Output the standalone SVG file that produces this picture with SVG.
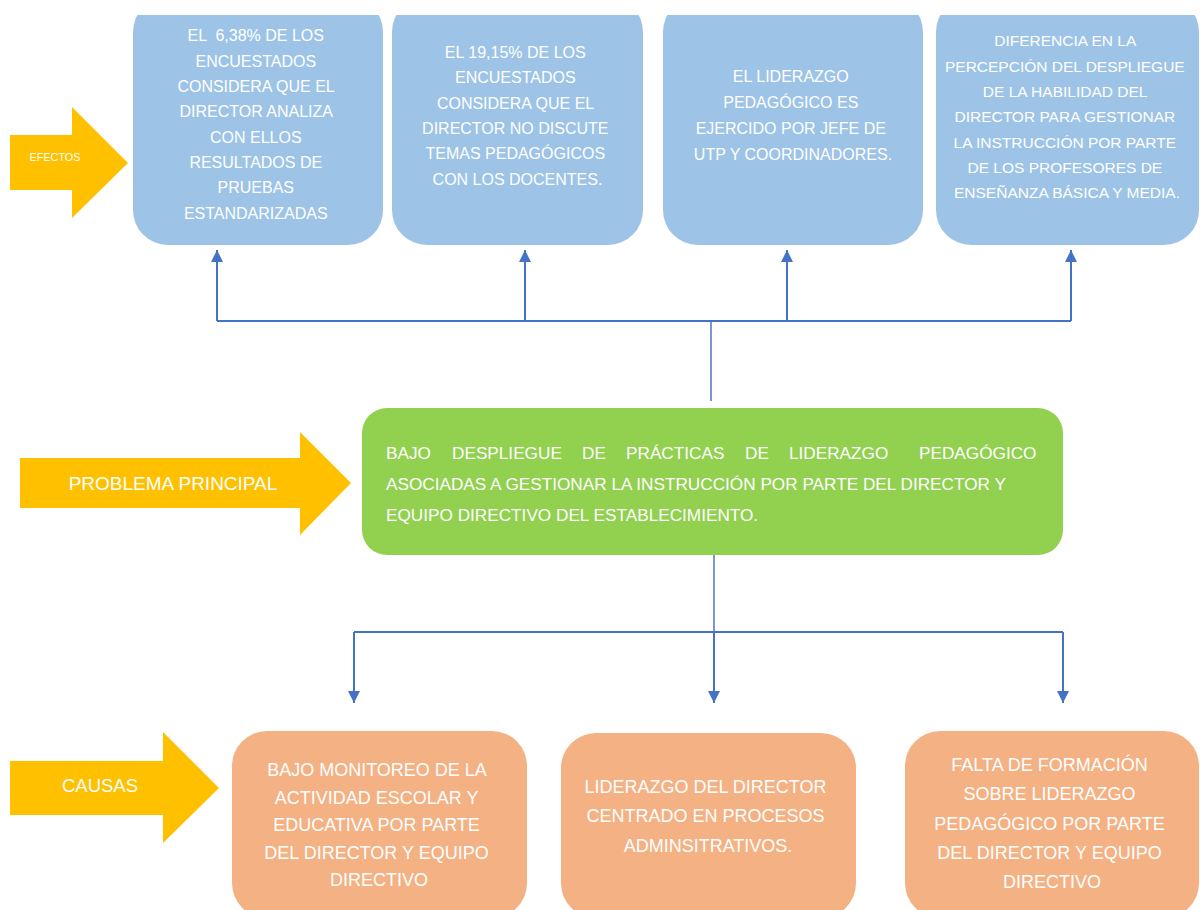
<svg xmlns="http://www.w3.org/2000/svg" width="1200" height="910" viewBox="0 0 1200 910">
<defs>
<style>
.t{font-family:"Liberation Sans",Arial,sans-serif;fill:#ffffff;}
.c{text-anchor:middle;}
.top{font-size:16px;}
.bot{font-size:18px;}
.grn{font-size:17.2px;}
.blue{fill:#9dc3e6;}
.green{fill:#92d050;}
.orange{fill:#f4b183;}
.yellow{fill:#ffc000;}
.con{stroke:#4472c4;stroke-width:2;fill:none;}
.stem{stroke:#4f74c0;stroke-width:1.5;fill:none;}
</style>
<marker id="ah" viewBox="0 0 12 12" refX="12" refY="6" markerWidth="12" markerHeight="12" orient="auto" markerUnits="userSpaceOnUse">
<path d="M0,0 L12,6 L0,12 z" fill="#4472c4"/>
</marker>
<clipPath id="topclip"><rect x="0" y="15" width="1200" height="300"/></clipPath>
</defs>
<rect x="0" y="0" width="1200" height="910" fill="#ffffff"/>

<g id="arrow-efectos">
<path class="yellow" d="M10,135 H72 V107 L128,163 L72,218 V190 H10 Z"/>
<text class="t c" x="55" y="161" font-size="10.8">EFECTOS</text>
</g>
<g id="arrow-problema">
<path class="yellow" d="M20,458 H300 V432 L351,483 L300,535 V508 H20 Z"/>
<text class="t c" x="173" y="490" font-size="19">PROBLEMA PRINCIPAL</text>
</g>
<g id="arrow-causas">
<path class="yellow" d="M10,761 H163 V732 L219,788 L163,843 V815 H10 Z"/>
<text class="t c" x="100" y="792" font-size="18.5">CAUSAS</text>
</g>

<g clip-path="url(#topclip)">
<g id="efecto1">
<rect class="blue" x="133" y="-3" width="250" height="248" rx="35" ry="35"/>
<text class="t c top" style="white-space:pre">
<tspan x="258" y="41">EL  6,38% DE LOS</tspan>
<tspan x="258" y="66.5">ENCUESTADOS</tspan>
<tspan x="258" y="92">CONSIDERA QUE EL</tspan>
<tspan x="258" y="117">DIRECTOR ANALIZA</tspan>
<tspan x="258" y="142.5">CON ELLOS</tspan>
<tspan x="258" y="168">RESULTADOS DE</tspan>
<tspan x="258" y="193">PRUEBAS</tspan>
<tspan x="258" y="219">ESTANDARIZADAS</tspan>
</text>
</g>
<g id="efecto2">
<rect class="blue" x="392" y="-3" width="251" height="248" rx="35" ry="35"/>
<text class="t c top">
<tspan x="517.5" y="58">EL 19,15% DE LOS</tspan>
<tspan x="517.5" y="83">ENCUESTADOS</tspan>
<tspan x="517.5" y="109">CONSIDERA QUE EL</tspan>
<tspan x="517.5" y="134">DIRECTOR NO DISCUTE</tspan>
<tspan x="517.5" y="159">TEMAS PEDAGÓGICOS</tspan>
<tspan x="517.5" y="185">CON LOS DOCENTES.</tspan>
</text>
</g>
<g id="efecto3">
<rect class="blue" x="663" y="-3" width="260" height="248" rx="35" ry="35"/>
<text class="t c top">
<tspan x="793" y="82">EL LIDERAZGO</tspan>
<tspan x="793" y="108">PEDAGÓGICO ES</tspan>
<tspan x="793" y="134">EJERCIDO POR JEFE DE</tspan>
<tspan x="793" y="160">UTP Y COORDINADORES.</tspan>
</text>
</g>
<g id="efecto4">
<rect class="blue" x="936" y="-3" width="263" height="248" rx="35" ry="35"/>
<text class="t c" font-size="15.5">
<tspan x="1067" y="46">DIFERENCIA EN LA</tspan>
<tspan x="1067" y="72">PERCEPCIÓN DEL DESPLIEGUE</tspan>
<tspan x="1067" y="97">DE LA HABILIDAD DEL</tspan>
<tspan x="1067" y="122">DIRECTOR PARA GESTIONAR</tspan>
<tspan x="1067" y="148">LA INSTRUCCIÓN POR PARTE</tspan>
<tspan x="1067" y="173">DE LOS PROFESORES DE</tspan>
<tspan x="1067" y="198">ENSEÑANZA BÁSICA Y MEDIA.</tspan>
</text>
</g>
</g>

<g id="problema">
<rect class="green" x="362" y="408" width="701" height="147" rx="25" ry="25"/>
<text class="t grn" y="459">
<tspan x="386">BAJO</tspan><tspan x="452">DESPLIEGUE</tspan><tspan x="582">DE</tspan><tspan x="626">PRÁCTICAS</tspan><tspan x="745">DE</tspan><tspan x="789">LIDERAZGO</tspan><tspan x="919">PEDAGÓGICO</tspan>
</text>
<text class="t grn" x="386" y="490">ASOCIADAS A GESTIONAR LA INSTRUCCIÓN POR PARTE DEL DIRECTOR Y</text>
<text class="t grn" x="386" y="521">EQUIPO DIRECTIVO DEL ESTABLECIMIENTO.</text>
</g>

<g id="causa1">
<rect class="orange" x="232" y="731" width="295" height="187" rx="35" ry="35"/>
<text class="t c bot">
<tspan x="379" y="776">BAJO MONITOREO DE LA</tspan>
<tspan x="379" y="804">ACTIVIDAD ESCOLAR Y</tspan>
<tspan x="379" y="831">EDUCATIVA POR PARTE</tspan>
<tspan x="379" y="859">DEL DIRECTOR Y EQUIPO</tspan>
<tspan x="379" y="886">DIRECTIVO</tspan>
</text>
</g>
<g id="causa2">
<rect class="orange" x="561" y="733" width="295" height="185" rx="35" ry="35"/>
<text class="t c bot">
<tspan x="708" y="793">LIDERAZGO DEL DIRECTOR</tspan>
<tspan x="708" y="822">CENTRADO EN PROCESOS</tspan>
<tspan x="708" y="852">ADMINSITRATIVOS.</tspan>
</text>
</g>
<g id="causa3">
<rect class="orange" x="905" y="731" width="294" height="187" rx="35" ry="35"/>
<text class="t c bot">
<tspan x="1052" y="771">FALTA DE FORMACIÓN</tspan>
<tspan x="1052" y="800">SOBRE LIDERAZGO</tspan>
<tspan x="1052" y="830">PEDAGÓGICO POR PARTE</tspan>
<tspan x="1052" y="859">DEL DIRECTOR Y EQUIPO</tspan>
<tspan x="1052" y="888">DIRECTIVO</tspan>
</text>
</g>

<g id="connectors">
<path class="stem" d="M711,321 V401"/>
<path class="con" d="M217,321 H1071"/>
<path class="con" d="M217,321 V250" marker-end="url(#ah)"/>
<path class="con" d="M525,321 V250" marker-end="url(#ah)"/>
<path class="con" d="M787,321 V250" marker-end="url(#ah)"/>
<path class="con" d="M1071,321 V250" marker-end="url(#ah)"/>
<path class="stem" d="M714,555 V632"/>
<path class="con" d="M354,632 H1063"/>
<path class="con" d="M354,632 V703" marker-end="url(#ah)"/>
<path class="con" d="M714,632 V703" marker-end="url(#ah)"/>
<path class="con" d="M1063,632 V703" marker-end="url(#ah)"/>
</g>
</svg>
